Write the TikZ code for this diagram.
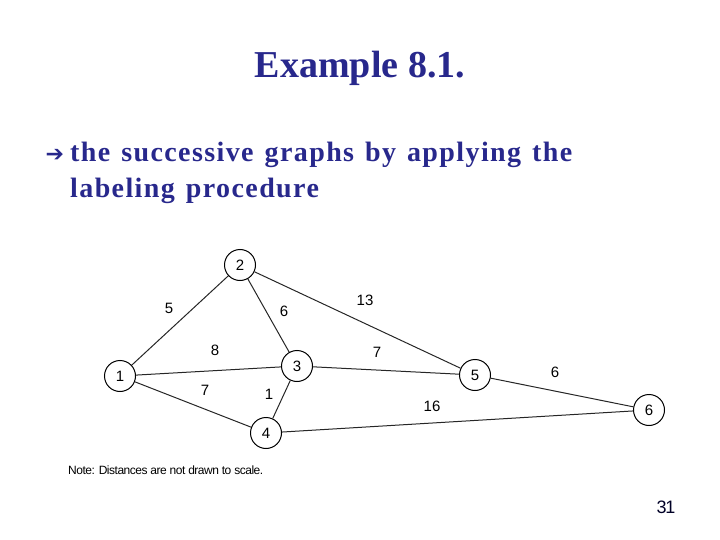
\documentclass[tikz,border=0pt]{standalone}
\usepackage{fontspec}
\setmainfont{Liberation Serif}
\newfontfamily\gsans{DejaVu Sans}
\newfontfamily\lsans{Liberation Sans}
\newcommand\widesp{\spaceskip=11pt\relax}
\begin{document}
\begin{tikzpicture}[x=1pt,y=-1pt,
  vert/.style={circle,draw,line width=1pt,minimum size=31pt,inner sep=0pt,font=\lsans\fontsize{15}{15}\selectfont},
  edge/.style={line width=1pt,black!85},
  wt/.style={font=\lsans\fontsize{15}{15}\selectfont},
  body/.style={text=navy,anchor=base west,inner sep=0pt,font=\bfseries\fontsize{28}{28}\selectfont\addfontfeatures{LetterSpace=5}}]
\useasboundingbox (0,0) rectangle (720,540);
\definecolor{navy}{RGB}{40,40,140}
\node[text=navy,font=\bfseries\fontsize{38}{40}\selectfont] (title) at (360,68) {Example 8.1.};
\node[text=navy,anchor=base west,font=\gsans\fontsize{22}{22}\selectfont] (bul) at (42,162) {➔};
\node[body] (l1) at (70,162) {\widesp the successive graphs by applying the};
\node[body] (l2) at (70,197) {\widesp labeling procedure};
\node[vert] (n2) at (240,265) {2};
\node[vert] (n1) at (120,376) {1};
\node[vert] (n3) at (297,366) {3};
\node[vert] (n4) at (266,433) {4};
\node[vert] (n5) at (475,375) {5};
\node[vert] (n6) at (649,410) {6};
\draw[edge] (n1)--(n2); \draw[edge] (n2)--(n3); \draw[edge] (n2)--(n5);
\draw[edge] (n1)--(n3); \draw[edge] (n1)--(n4); \draw[edge] (n3)--(n4);
\draw[edge] (n3)--(n5); \draw[edge] (n5)--(n6); \draw[edge] (n4)--(n6);
\node[wt] (w1) at (169,308) {5};
\node[wt] (w2) at (284,311) {6};
\node[wt] (w3) at (365,300) {13};
\node[wt] (w4) at (215,350) {8};
\node[wt] (w5) at (377,352) {7};
\node[wt] (w6) at (205,390) {7};
\node[wt] (w7) at (269,394) {1};
\node[wt] (w8) at (432,406) {16};
\node[wt] (w9) at (555,372) {6};
\node[anchor=west,inner sep=0pt,font=\lsans\fontsize{12}{12}\selectfont\addfontfeatures{LetterSpace=-4}] (note) at (68,470) {Note: Distances are not drawn to scale.};
\node[text=black!85!blue,font=\lsans\fontsize{18}{18}\selectfont\addfontfeatures{LetterSpace=-8}] (pg) at (666,507) {31};
\end{tikzpicture}
\end{document}
